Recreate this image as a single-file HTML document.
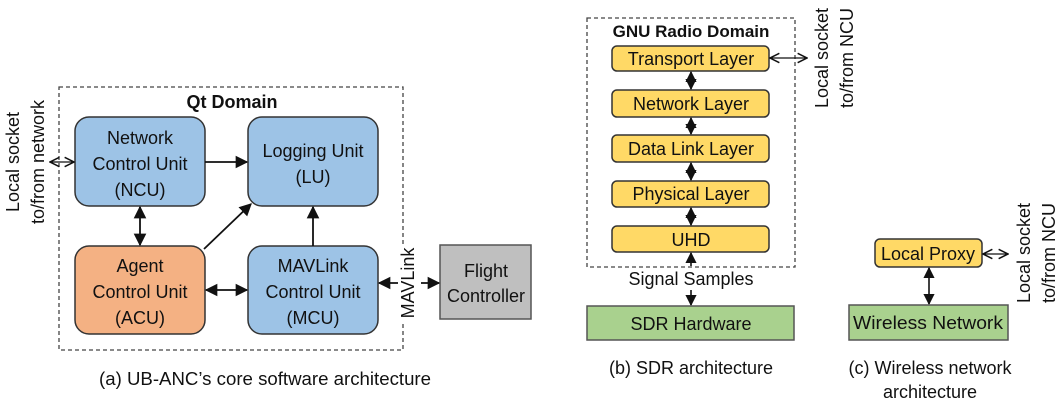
<!DOCTYPE html>
<html><head><meta charset="utf-8"><style>
html,body{margin:0;padding:0;background:#fff;}
svg{display:block;}
text{font-family:"Liberation Sans",sans-serif;fill:#111;}
</style></head><body>
<svg width="1061" height="406" viewBox="0 0 1061 406" xmlns="http://www.w3.org/2000/svg">
<defs>
<marker id="a" viewBox="0 0 10 10" refX="9" refY="5" markerWidth="7" markerHeight="7" orient="auto-start-reverse"><path d="M0,0 L10,5 L0,10 z" fill="#111"/></marker>
<marker id="o" viewBox="0 0 10 10" refX="9" refY="5" markerWidth="9" markerHeight="9" orient="auto-start-reverse"><path d="M1,1 L9,5 L1,9" fill="none" stroke="#111" stroke-width="1.3"/></marker>
</defs>

<!-- Panel a -->
<rect x="59" y="87" width="344" height="263" fill="none" stroke="#444" stroke-width="1.3" stroke-dasharray="4,3"/>
<text x="232" y="108" font-size="18" font-weight="bold" text-anchor="middle">Qt Domain</text>

<rect x="75" y="117" width="130" height="89" rx="14" fill="#9dc3e6" stroke="#333" stroke-width="1.5"/>
<text font-size="18" text-anchor="middle"><tspan x="140" y="144">Network</tspan><tspan x="140" y="170">Control Unit</tspan><tspan x="140" y="196">(NCU)</tspan></text>
<rect x="248" y="117" width="130" height="89" rx="14" fill="#9dc3e6" stroke="#333" stroke-width="1.5"/>
<text font-size="18" text-anchor="middle"><tspan x="313" y="157">Logging Unit</tspan><tspan x="313" y="183">(LU)</tspan></text>
<rect x="75" y="246" width="130" height="88" rx="14" fill="#f4b183" stroke="#333" stroke-width="1.5"/>
<text font-size="18" text-anchor="middle"><tspan x="140" y="272">Agent</tspan><tspan x="140" y="298">Control Unit</tspan><tspan x="140" y="324">(ACU)</tspan></text>
<rect x="248" y="246" width="130" height="88" rx="14" fill="#9dc3e6" stroke="#333" stroke-width="1.5"/>
<text font-size="18" text-anchor="middle"><tspan x="313" y="272">MAVLink</tspan><tspan x="313" y="298">Control Unit</tspan><tspan x="313" y="324">(MCU)</tspan></text>
<rect x="440" y="245" width="91" height="74" fill="#bfbfbf" stroke="#555" stroke-width="1.5"/>
<text font-size="18" text-anchor="middle"><tspan x="486" y="277">Flight</tspan><tspan x="486" y="302">Controller</tspan></text>

<g stroke="#111" stroke-width="1.8" fill="none">
<line x1="205" y1="162" x2="247" y2="162" marker-end="url(#a)"/>
<line x1="140" y1="207" x2="140" y2="245" marker-start="url(#a)" marker-end="url(#a)"/>
<line x1="204" y1="249" x2="251" y2="204" marker-end="url(#a)"/>
<line x1="313" y1="246" x2="313" y2="207" marker-end="url(#a)"/>
<line x1="206" y1="290" x2="247" y2="290" marker-start="url(#a)" marker-end="url(#a)"/>
<line x1="398" y1="283" x2="379" y2="283" marker-end="url(#a)"/>
<line x1="421" y1="283" x2="439" y2="283" marker-end="url(#a)"/>
</g>
<line x1="50" y1="162" x2="74" y2="162" stroke="#111" stroke-width="1.3" marker-start="url(#o)" marker-end="url(#o)"/>
<rect x="400" y="245" width="16" height="76" fill="#fff"/>
<text font-size="18" text-anchor="middle" transform="translate(414,283) rotate(-90)">MAVLink</text>
<text font-size="18" text-anchor="middle" transform="translate(19,162) rotate(-90)">Local socket</text>
<text font-size="18" text-anchor="middle" transform="translate(44,162) rotate(-90)">to/from network</text>
<text x="265" y="385" font-size="18" text-anchor="middle" textLength="332" lengthAdjust="spacingAndGlyphs">(a) UB-ANC’s core software architecture</text>

<!-- Panel b -->
<rect x="587" y="18" width="208" height="249" fill="none" stroke="#444" stroke-width="1.3" stroke-dasharray="4,3"/>
<text x="691" y="37" font-size="17" font-weight="bold" text-anchor="middle">GNU Radio Domain</text>
<g fill="#ffd966" stroke="#333" stroke-width="1.5">
<rect x="612" y="46" width="157" height="25" rx="5"/>
<rect x="612" y="90" width="157" height="27" rx="5"/>
<rect x="612" y="135" width="157" height="27" rx="5"/>
<rect x="612" y="181" width="157" height="26" rx="5"/>
<rect x="612" y="226" width="157" height="26" rx="5"/>
</g>
<g font-size="18" text-anchor="middle">
<text x="691" y="65">Transport Layer</text>
<text x="691" y="110">Network Layer</text>
<text x="691" y="155">Data Link Layer</text>
<text x="691" y="200">Physical Layer</text>
<text x="691" y="246">UHD</text>
</g>
<g stroke="#111" stroke-width="1.6">
<line x1="691" y1="72" x2="691" y2="89" marker-start="url(#a)" marker-end="url(#a)"/>
<line x1="691" y1="118" x2="691" y2="134" marker-start="url(#a)" marker-end="url(#a)"/>
<line x1="691" y1="163" x2="691" y2="180" marker-start="url(#a)" marker-end="url(#a)"/>
<line x1="691" y1="208" x2="691" y2="225" marker-start="url(#a)" marker-end="url(#a)"/>
<line x1="691" y1="266" x2="691" y2="253" marker-end="url(#a)"/>
<line x1="691" y1="290" x2="691" y2="305" marker-end="url(#a)"/>
</g>
<line x1="770" y1="58" x2="807" y2="58" stroke="#111" stroke-width="1.3" marker-start="url(#o)" marker-end="url(#o)"/>
<text x="691" y="285" font-size="18" text-anchor="middle">Signal Samples</text>
<rect x="587" y="306" width="207" height="34" fill="#a9d18e" stroke="#555" stroke-width="1.5"/>
<text x="691" y="330" font-size="18" text-anchor="middle">SDR Hardware</text>
<text font-size="18" text-anchor="middle" transform="translate(828,58) rotate(-90)">Local socket</text>
<text font-size="18" text-anchor="middle" transform="translate(853,58) rotate(-90)">to/from NCU</text>
<text x="691" y="374" font-size="18" text-anchor="middle">(b) SDR architecture</text>

<!-- Panel c -->
<rect x="875" y="239" width="107" height="28" rx="5" fill="#ffd966" stroke="#333" stroke-width="1.5"/>
<text x="928" y="260" font-size="18" text-anchor="middle">Local Proxy</text>
<line x1="983" y1="254" x2="1008" y2="254" stroke="#111" stroke-width="1.3" marker-start="url(#o)" marker-end="url(#o)"/>
<line x1="929" y1="268" x2="929" y2="304" stroke="#111" stroke-width="1.6" marker-start="url(#a)" marker-end="url(#a)"/>
<rect x="849" y="305" width="159" height="35" fill="#a9d18e" stroke="#555" stroke-width="1.5"/>
<text x="928" y="329" font-size="18" text-anchor="middle" textLength="150" lengthAdjust="spacingAndGlyphs">Wireless Network</text>
<text font-size="18" text-anchor="middle" transform="translate(1030,253) rotate(-90)">Local socket</text>
<text font-size="18" text-anchor="middle" transform="translate(1055,253) rotate(-90)">to/from NCU</text>
<text x="930" y="374" font-size="18" text-anchor="middle">(c) Wireless network</text>
<text x="930" y="398" font-size="18" text-anchor="middle">architecture</text>
</svg>
</body></html>
